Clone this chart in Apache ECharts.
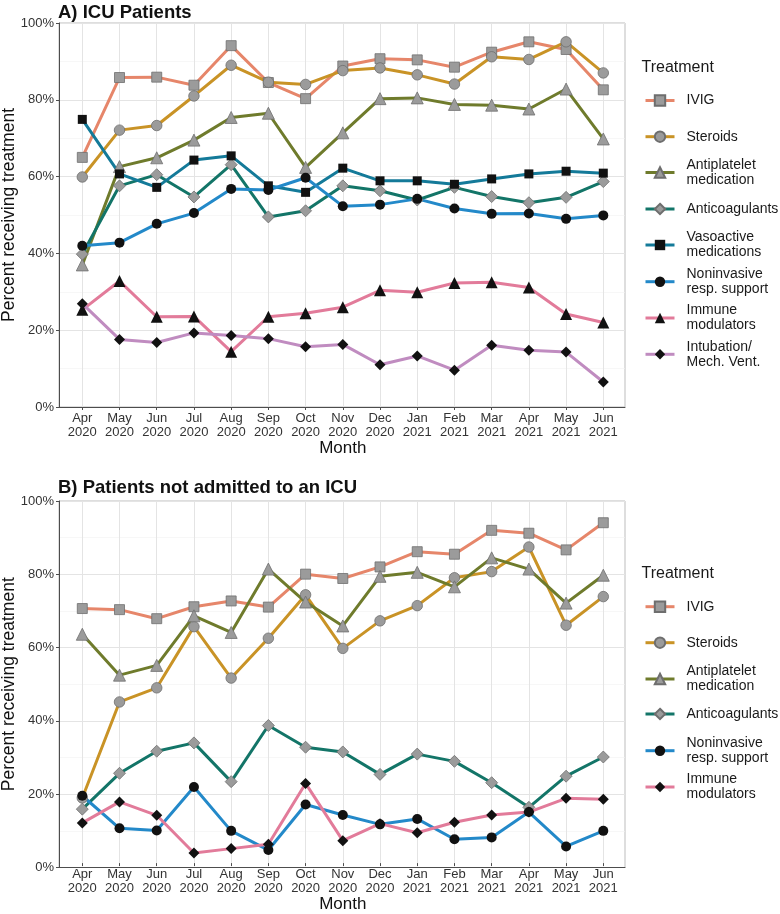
<!DOCTYPE html>
<html><head><meta charset="utf-8">
<script src="https://cdn.jsdelivr.net/npm/echarts@6/dist/echarts.min.js"></script>
<style>html,body{margin:0;padding:0;background:#fff}#c{width:780px;height:914px}</style>
</head><body><div id="c"></div>
<script>
// ---------- DATA ----------
const months = ['Apr\n2020','May\n2020','Jun\n2020','Jul\n2020','Aug\n2020','Sep\n2020','Oct\n2020','Nov\n2020','Dec\n2020','Jan\n2021','Feb\n2021','Mar\n2021','Apr\n2021','May\n2021','Jun\n2021'];
const yTickLabels = ['0%','20%','40%','60%','80%','100%'];

// Panel A: ICU patients (percent)
const icuIVIG         = [65.0, 85.8, 85.9, 83.8, 94.1, 84.5, 80.3, 88.8, 90.7, 90.4, 88.5, 92.4, 95.1, 93.1, 82.6];
const icuSteroids     = [59.9, 72.1, 73.3, 81.0, 89.0, 84.6, 84.0, 87.6, 88.3, 86.5, 84.1, 91.2, 90.5, 95.1, 87.0];
const icuAntiplatelet = [37.0, 62.6, 64.9, 69.5, 75.4, 76.5, 62.4, 71.4, 80.3, 80.5, 78.8, 78.6, 77.6, 82.8, 69.8];
const icuAnticoag     = [39.8, 57.6, 60.5, 54.7, 63.1, 49.5, 51.1, 57.6, 56.3, 53.9, 57.2, 54.8, 53.2, 54.6, 58.7];
const icuVasoactive   = [74.9, 60.7, 57.2, 64.3, 65.4, 57.6, 55.9, 62.2, 58.9, 58.9, 58.0, 59.4, 60.7, 61.4, 60.9];
const icuNoninvasive  = [42.0, 42.8, 47.7, 50.5, 56.8, 56.5, 59.7, 52.3, 52.7, 54.2, 51.7, 50.3, 50.4, 49.0, 49.9];
const icuImmune       = [25.3, 32.8, 23.5, 23.6, 14.4, 23.5, 24.4, 26.0, 30.4, 29.9, 32.3, 32.5, 31.1, 24.2, 22.0];
const icuIntubation   = [26.9, 17.6, 16.8, 19.3, 18.6, 17.8, 15.7, 16.3, 11.0, 13.3,  9.6, 16.1, 14.8, 14.3,  6.5];

// Panel B: patients not admitted to an ICU (percent)
const nonIVIG         = [70.3, 70.0, 67.5, 70.8, 72.4, 70.7, 79.8, 78.6, 81.8, 86.0, 85.3, 91.9, 91.1, 86.5, 94.0];
const nonSteroids     = [18.0, 44.5, 48.4, 65.3, 51.1, 62.1, 74.1, 59.3, 66.9, 71.1, 78.8, 80.5, 87.3, 65.7, 73.6];
const nonAntiplatelet = [63.2, 51.9, 54.6, 68.3, 63.7, 81.2, 72.1, 65.5, 79.2, 80.3, 76.3, 84.3, 81.2, 71.8, 79.5];
const nonAnticoag     = [14.9, 24.8, 30.9, 33.2, 22.5, 38.0, 32.0, 30.7, 24.5, 30.1, 28.1, 22.2, 15.4, 24.0, 29.3];
const nonNoninvasive  = [18.6,  9.6,  9.0, 21.0,  8.9,  3.6, 16.2, 13.3, 10.7, 12.2,  6.6,  7.1, 14.1,  4.6,  8.9];
const nonImmune       = [11.1, 16.9, 13.2,  2.8,  4.0,  5.2, 22.0,  6.2, 10.9,  8.4, 11.3, 13.3, 14.1, 17.9, 17.6];

// ---------- STYLE ----------
const FONT = '"Liberation Sans", Arial, Helvetica, sans-serif';
const GRAY = '#9b9b9b', GRAYB = '#6e6e6e', BLACK = '#111111';
const sty = {
  'IVIG':                      {color:'#E6866A', symbol:'rect',     size:10, fill:GRAY},
  'Steroids':                  {color:'#C99326', symbol:'circle',   size:10.5, fill:GRAY},
  'Antiplatelet medication':   {color:'#6F7B2C', symbol:'triangle', size:12, fill:GRAY},
  'Anticoagulants':            {color:'#137568', symbol:'diamond',  size:12, fill:GRAY},
  'Vasoactive medications':    {color:'#147A99', symbol:'rect',     size:9,  fill:BLACK},
  'Noninvasive resp. support': {color:'#2389C9', symbol:'circle',   size:10, fill:BLACK},
  'Immune modulators':         {color:'#E27B9A', symbol:'triangle', size:12, fill:BLACK},
  'Intubation/Mech. Vent.':    {color:'#C08CC0', symbol:'diamond',  size:11, fill:BLACK},
  'Immune modulators (B)':     {color:'#E27B9A', symbol:'diamond',  size:11, fill:BLACK}
};
const labelText = {
  'IVIG':'IVIG','Steroids':'Steroids','Antiplatelet medication':'Antiplatelet\nmedication',
  'Anticoagulants':'Anticoagulants','Vasoactive medications':'Vasoactive\nmedications',
  'Noninvasive resp. support':'Noninvasive\nresp. support','Immune modulators':'Immune\nmodulators',
  'Intubation/Mech. Vent.':'Intubation/\nMech. Vent.','Immune modulators (B)':'Immune\nmodulators'
};

function mkSeries(name, values, axisIdx) {
  const s = sty[name];
  return {
    name: name, type: 'line', xAxisIndex: axisIdx, yAxisIndex: axisIdx,
    data: values.map((v, i) => [i, v]),
    symbol: s.symbol, symbolSize: s.size, showSymbol: true,
    lineStyle: {color: s.color, width: 3},
    itemStyle: {color: s.fill, borderColor: s.fill === GRAY ? GRAYB : BLACK, borderWidth: s.fill === GRAY ? 0.8 : 0},
    emphasis: {disabled: true}, silent: true
  };
}

const seriesA = [
  mkSeries('IVIG', icuIVIG, 1), mkSeries('Steroids', icuSteroids, 1),
  mkSeries('Antiplatelet medication', icuAntiplatelet, 1), mkSeries('Anticoagulants', icuAnticoag, 1),
  mkSeries('Vasoactive medications', icuVasoactive, 1), mkSeries('Noninvasive resp. support', icuNoninvasive, 1),
  mkSeries('Immune modulators', icuImmune, 1), mkSeries('Intubation/Mech. Vent.', icuIntubation, 1)
];
const seriesB = [
  mkSeries('IVIG', nonIVIG, 3), mkSeries('Steroids', nonSteroids, 3),
  mkSeries('Antiplatelet medication', nonAntiplatelet, 3), mkSeries('Anticoagulants', nonAnticoag, 3),
  mkSeries('Noninvasive resp. support', nonNoninvasive, 3), mkSeries('Immune modulators (B)', nonImmune, 3)
];

// ---------- LAYOUT ----------
const frameL = 59, frameW = 566, dataL = 82.3, dataW = 521;
const panels = [{top: 23, h: 384}, {top: 501, h: 366.5}];

const grids = [], xAxes = [], yAxes = [], graphics = [];
panels.forEach((p) => {
  grids.push({left: frameL, top: p.top, width: frameW, height: p.h, show: true, borderColor: '#BDBDBD', borderWidth: 1, backgroundColor: 'transparent'});
  grids.push({left: dataL, top: p.top, width: dataW, height: p.h});
  const gi = grids.length - 2;
  xAxes.push({gridIndex: gi, type: 'value', min: 0, max: 1, axisLine: {show: true, lineStyle: {color: '#4d4d4d', width: 1}},
    axisTick: {show: false}, axisLabel: {show: false}, splitLine: {show: false}});
  xAxes.push({gridIndex: gi + 1, type: 'value', min: 0, max: months.length - 1, interval: 1,
    axisLine: {show: false}, axisTick: {show: true, length: 3, lineStyle: {color: '#4d4d4d'}},
    axisLabel: {color: '#333', fontFamily: FONT, fontSize: 13, lineHeight: 14, margin: 4, formatter: (v) => months[v] || ''},
    splitLine: {show: true, lineStyle: {color: '#E4E4E4', width: 1}},
    name: 'Month', nameLocation: 'middle', nameGap: 31.5, nameTextStyle: {fontFamily: FONT, fontSize: 17, color: '#111'}});
  yAxes.push({gridIndex: gi, type: 'value', min: 0, max: 100, interval: 20,
    axisLine: {show: true, lineStyle: {color: '#4d4d4d', width: 1}},
    axisTick: {show: true, length: 3, lineStyle: {color: '#4d4d4d'}},
    axisLabel: {color: '#333', fontFamily: FONT, fontSize: 13, margin: 5, formatter: (v) => yTickLabels[v / 20]},
    splitLine: {show: true, lineStyle: {color: '#E4E4E4', width: 1}},
    minorTick: {show: false, splitNumber: 2},
    minorSplitLine: {show: true, lineStyle: {color: '#F1F1F1', width: 0.6}}});
  yAxes.push({gridIndex: gi + 1, type: 'value', min: 0, max: 100, show: false});
  graphics.push({type: 'text', x: 9, y: p.top + p.h / 2, rotation: Math.PI / 2,
    style: {text: 'Percent receiving treatment', fill: '#111', font: '17.5px ' + FONT, textAlign: 'center', textVerticalAlign: 'middle'}});
});

// legends: one per item for exact vertical placement
const legendA = [['IVIG',100.5],['Steroids',136.7],['Antiplatelet medication',172.5],['Anticoagulants',209],
  ['Vasoactive medications',245],['Noninvasive resp. support',281.7],['Immune modulators',318],['Intubation/Mech. Vent.',354.3]];
const legendB = [['IVIG',606.7],['Steroids',642.7],['Antiplatelet medication',679],['Anticoagulants',714],
  ['Noninvasive resp. support',750.7],['Immune modulators (B)',787]];
const LH = 15;
const legends = legendA.concat(legendB).map(([name, cy]) => {
  const lines = labelText[name].split('\n').length;
  return {
    data: [name], orient: 'vertical', left: 644, top: cy - lines * LH / 2, padding: 0,
    itemWidth: 29, itemHeight: 13, selectedMode: false,
    lineStyle: {width: 3},
    formatter: (n) => labelText[n],
    textStyle: {fontFamily: FONT, fontSize: 14, lineHeight: LH, color: '#1a1a1a', padding: [0, 0, 0, 7]}
  };
});

const titles = [
  {text: 'A) ICU Patients', left: 58, top: 3, padding: 0, textStyle: {fontFamily: FONT, fontSize: 18.5, fontWeight: 'bold', color: '#111'}},
  {text: 'B) Patients not admitted to an ICU', left: 58, top: 478, padding: 0, textStyle: {fontFamily: FONT, fontSize: 18.5, fontWeight: 'bold', color: '#111'}},
  {text: 'Treatment', left: 641.5, top: 58.5, padding: 0, textStyle: {fontFamily: FONT, fontSize: 16, fontWeight: 'normal', lineHeight: 18, color: '#1a1a1a'}},
  {text: 'Treatment', left: 641.5, top: 564.5, padding: 0, textStyle: {fontFamily: FONT, fontSize: 16, fontWeight: 'normal', lineHeight: 18, color: '#1a1a1a'}}
];

const chart = echarts.init(document.getElementById('c'), null, {renderer: 'canvas'});
chart.setOption({
  backgroundColor: '#ffffff',
  animation: false,
  textStyle: {fontFamily: FONT},
  title: titles,
  legend: legends,
  grid: grids,
  xAxis: xAxes,
  yAxis: yAxes,
  graphic: graphics,
  series: seriesA.concat(seriesB)
});
</script>
</body></html>
